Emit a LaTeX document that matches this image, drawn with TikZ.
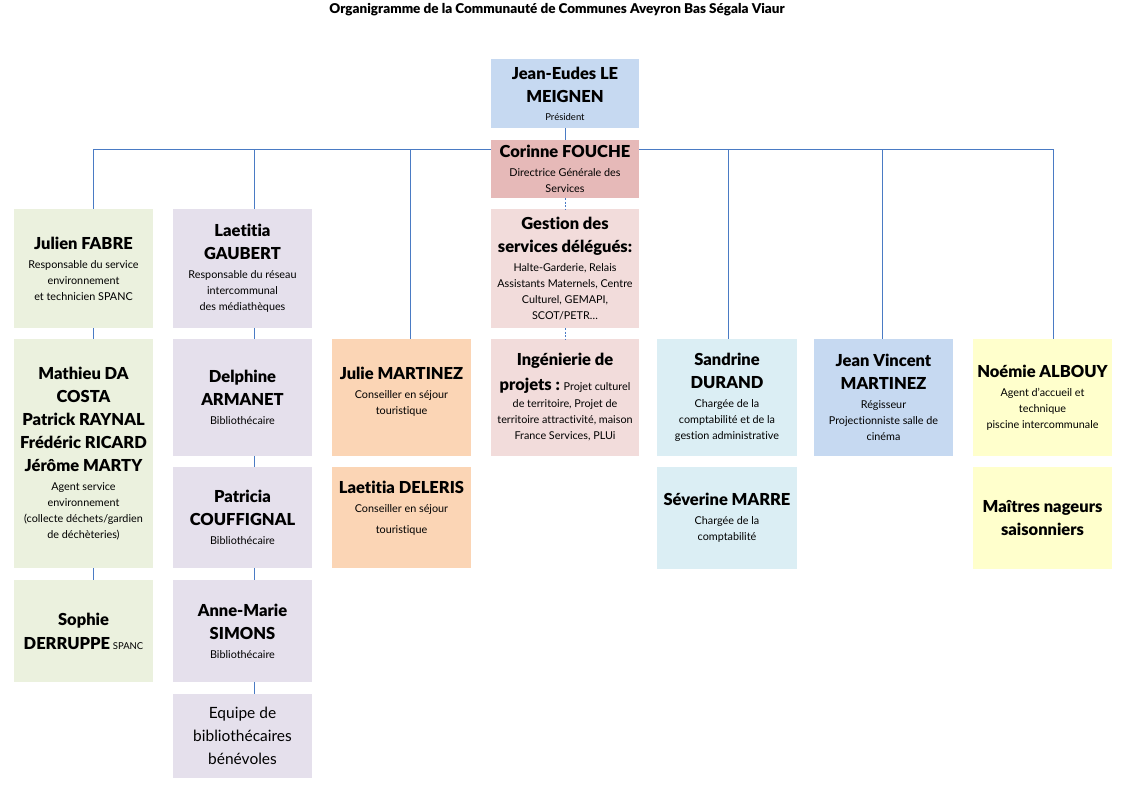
\documentclass[tikz,border=0pt]{standalone}
\usepackage{fontspec}
\setmainfont{Lato}[Ligatures=NoCommon, BoldFont={Lato Black}]
\usepackage{tikz}

\definecolor{bleu}{HTML}{C6D9F1}
\definecolor{rouge}{HTML}{E6B9B8}
\definecolor{rose}{HTML}{F2DCDB}
\definecolor{vert}{HTML}{EBF1DE}
\definecolor{mauve}{HTML}{E5E0EC}
\definecolor{abricot}{HTML}{FBD5B5}
\definecolor{ciel}{HTML}{DBEEF4}
\definecolor{jaune}{HTML}{FFFFCC}
\definecolor{trait}{HTML}{4A7BC4}

\newcommand{\nomfont}{\fontsize{16.5}{23}\selectfont\bfseries}
\newcommand{\fctfont}{\fontsize{10.8}{16}\selectfont}

\begin{document}
\begin{tikzpicture}[x=1pt, y=1pt,
  boite/.style={inner sep=0pt, align=center, minimum width=139pt, font=\fctfont},
  lien/.style={draw=trait, line width=0.8pt}]

\useasboundingbox (0,0) rectangle (1124,-793);

\node (titre) at (557,-10) {\fontsize{13.5}{15}\selectfont\bfseries Organigramme de la Communauté de Communes Aveyron Bas Ségala Viaur};

% direction
\node[boite, fill=bleu, minimum width=148pt, minimum height=69pt] (president) at (565,-93.5)
  {{\nomfont Jean-Eudes LE}\\[7pt]{\nomfont MEIGNEN}\\[2pt]{\fontsize{9.5}{10}\selectfont Président}};
\node[boite, fill=rouge, minimum width=148pt, minimum height=58pt] (corinne) at (565,-169)
  {{\nomfont Corinne FOUCHE}\\[3pt]Directrice Générale des\\Services};
\node[boite, fill=rose, minimum width=148pt, minimum height=119pt] (gestion) at (565,-268.5)
  {{\nomfont Gestion des}\\[7pt]{\nomfont services délégués:}\\[3pt]Halte-Garderie, Relais\\Assistants Maternels, Centre\\Culturel, GEMAPI,\\SCOT/PETR…};
\node[boite, fill=rose, minimum width=148pt, minimum height=117pt] (ingenierie) at (565,-397.5)
  {{\nomfont Ingénierie de}\\[9pt]{\nomfont projets :} Projet culturel\\[1pt]de territoire, Projet de\\territoire attractivité, maison\\France Services, PLUi};

% environnement
\node[boite, fill=vert, minimum height=119pt] (julien) at (83.5,-268.5)
  {{\nomfont Julien FABRE}\\[3pt]Responsable du service\\environnement\\et technicien SPANC};
\node[boite, fill=vert, minimum height=229pt] (mathieu) at (83.5,-453.5)
  {{\nomfont Mathieu DA}\\[7pt]{\nomfont COSTA}\\[7pt]{\nomfont Patrick RAYNAL}\\[7pt]{\nomfont Frédéric RICARD}\\[7pt]{\nomfont Jérôme MARTY}\\[3pt]Agent service\\environnement\\(collecte déchets/gardien\\de déchèteries)};
\node[boite, fill=vert, minimum height=102pt] (sophie) at (83.5,-631)
  {{\nomfont Sophie}\\[8pt]{\nomfont DERRUPPE} {\fontsize{9.5}{10}\selectfont SPANC}};

% mediatheques
\node[boite, fill=mauve, minimum height=119pt] (laetitia) at (242.5,-268.5)
  {{\nomfont Laetitia}\\[7pt]{\nomfont GAUBERT}\\[3pt]Responsable du réseau\\intercommunal\\des médiathèques};
\node[boite, fill=mauve, minimum height=117pt] (delphine) at (242.5,-397.5)
  {{\nomfont Delphine}\\[7pt]{\nomfont ARMANET}\\[3pt]Bibliothécaire};
\node[boite, fill=mauve, minimum height=101pt] (patricia) at (242.5,-517.5)
  {{\nomfont Patricia}\\[7pt]{\nomfont COUFFIGNAL}\\[3pt]Bibliothécaire};
\node[boite, fill=mauve, minimum height=102pt] (annemarie) at (242.5,-631)
  {{\nomfont Anne-Marie}\\[7pt]{\nomfont SIMONS}\\[3pt]Bibliothécaire};
\node[boite, fill=mauve, minimum height=84pt, font=\fontsize{15.5}{23}\selectfont] (equipe) at (242.5,-736)
  {Equipe de\\bibliothécaires\\bénévoles};

% tourisme
\node[boite, fill=abricot, minimum height=117pt] (julie) at (401.5,-397.5)
  {{\nomfont Julie MARTINEZ}\\[3pt]Conseiller en séjour\\touristique\\[-2pt]\mbox{}};
\node[boite, fill=abricot, minimum height=101pt] (deleris) at (401.5,-517.5)
  {{\nomfont Laetitia DELERIS}\\[3pt]Conseiller en séjour\\[5pt]touristique\\[5pt]\mbox{}};

% comptabilite
\node[boite, fill=ciel, minimum width=140pt, minimum height=117pt] (sandrine) at (727,-397.5)
  {{\nomfont Sandrine}\\[7pt]{\nomfont DURAND}\\[3pt]Chargée de la\\comptabilité et de la\\gestion administrative};
\node[boite, fill=ciel, minimum width=140pt, minimum height=102pt] (severine) at (727,-518)
  {{\nomfont Séverine MARRE}\\[3pt]Chargée de la\\comptabilité};

% cinema
\node[boite, fill=bleu, minimum height=117pt] (jeanvincent) at (883.5,-397.5)
  {{\nomfont Jean Vincent}\\[7pt]{\nomfont MARTINEZ}\\[3pt]Régisseur\\Projectionniste salle de\\cinéma};

% piscine
\node[boite, fill=jaune, minimum height=117pt] (noemie) at (1042.5,-397.5)
  {{\nomfont Noémie ALBOUY}\\[3pt]Agent d'accueil et\\technique\\piscine intercommunale};
\node[boite, fill=jaune, minimum height=102pt, font=\nomfont] (nageurs) at (1042.5,-518)
  {Maîtres nageurs\\saisonniers};

% liens
\coordinate (b1) at (93,-149);
\coordinate (b2) at (254,-149);
\coordinate (b3) at (410,-149);
\coordinate (b5) at (728,-149);
\coordinate (b6) at (882,-149);
\coordinate (b7) at (1053,-149);

\draw[lien] (b1) -- (corinne.west |- b1);
\draw[lien] (corinne.east |- b1) -- (b7);
\draw[lien] (president.south) -- (corinne.north);
\draw[lien, dash pattern=on 2pt off 1.5pt] (corinne.south) -- (gestion.north);
\draw[lien, dash pattern=on 2pt off 1.5pt] (gestion.south) -- (ingenierie.north);

\draw[lien] (b1) -- (b1 |- julien.north);
\draw[lien] (b1 |- julien.south) -- (b1 |- mathieu.north);
\draw[lien] (b1 |- mathieu.south) -- (b1 |- sophie.north);

\draw[lien] (b2) -- (b2 |- laetitia.north);
\draw[lien] (b2 |- laetitia.south) -- (b2 |- delphine.north);
\draw[lien] (b2 |- delphine.south) -- (b2 |- patricia.north);
\draw[lien] (b2 |- patricia.south) -- (b2 |- annemarie.north);
\draw[lien] (b2 |- annemarie.south) -- (b2 |- equipe.north);

\draw[lien] (b3) -- (b3 |- julie.north);
\draw[lien] (b5) -- (b5 |- sandrine.north);
\draw[lien] (b6) -- (b6 |- jeanvincent.north);
\draw[lien] (b7) -- (b7 |- noemie.north);
\end{tikzpicture}
\end{document}
